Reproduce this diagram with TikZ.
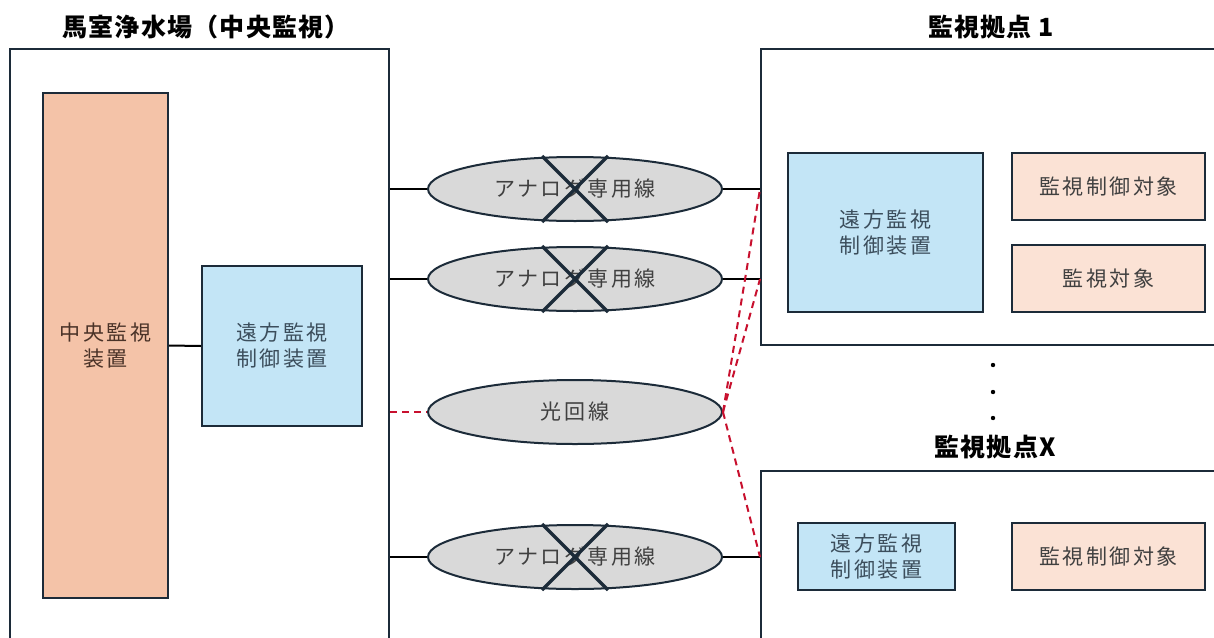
\documentclass[tikz,border=0pt]{standalone}
\usepackage{fontspec}
\setmainfont{Noto Sans CJK JP}
\newfontfamily\jpsp[LetterSpace=12]{Noto Sans CJK JP}
\newfontfamily\jpti[LetterSpace=5]{Noto Sans CJK JP}
\usetikzlibrary{shapes.geometric,calc}
\definecolor{frame}{HTML}{1C2B39}
\definecolor{salmon}{HTML}{F4C3A8}
\definecolor{lblue}{HTML}{C3E5F6}
\definecolor{peach}{HTML}{FBE2D5}
\definecolor{egray}{HTML}{D9D9D9}
\definecolor{txt}{HTML}{404040}
\definecolor{brtxt}{HTML}{4A3328}
\definecolor{bltxt}{HTML}{3C4E5C}
\definecolor{dred}{HTML}{C8102E}
\begin{document}
\begin{tikzpicture}[x=1pt,y=-1pt,
  sitebox/.style={draw=frame,line width=2pt,fill=white,inner sep=0pt,rectangle},
  devbox/.style={draw=frame,line width=2pt,inner sep=0pt,rectangle,align=center,
    font=\jpsp\fontsize{21}{26}\selectfont},
  line/.style={ellipse,draw=frame,line width=2pt,fill=egray,inner sep=0pt,
    minimum width=294pt,minimum height=64pt,text=txt,font=\jpsp\fontsize{21}{26}\selectfont},
  title/.style={font=\jpti\fontsize{25}{29}\selectfont\bfseries,text=black},
  wire/.style={line width=2pt,black},
  fiber/.style={line width=2pt,dred,dash pattern=on 7pt off 5pt},
  cross/.style={line width=3.5pt,frame}
]
\useasboundingbox (0,0) rectangle (1214,637);
\clip (0,0) rectangle (1214,637);
\fill[white] (0,0) rectangle (1214,637);

% sites
\node[sitebox,minimum width=379pt,minimum height=612pt] (s0) at (199.5,355) {};
\node[sitebox,minimum width=469pt,minimum height=296pt] (s1) at (995.5,197) {};
\node[sitebox,minimum width=469pt,minimum height=190pt] (sx) at (995.5,566) {};

% titles
\node[title] (t0) at (206,27) {馬室浄水場（中央監視）};
\node[title] (t1) at (991,27) {監視拠点 1};
\node[title] (tx) at (995,447) {監視拠点X};

% devices, central
\node[devbox,fill=salmon,text=brtxt,minimum width=125pt,minimum height=505pt] (cm) at (105.5,345.5) {中央監視\\装置};
\node[devbox,fill=lblue,text=bltxt,minimum width=160pt,minimum height=160pt] (r0) at (282,346) {遠方監視\\制御装置};
\draw[wire] (cm.east) -- (r0.west);

% devices, site 1
\node[devbox,fill=lblue,text=bltxt,minimum width=195pt,minimum height=159pt] (r1) at (885.5,232.5) {遠方監視\\制御装置};
\node[devbox,fill=peach,text=txt,minimum width=193pt,minimum height=67pt] (o1) at (1108.5,186.5) {監視制御対象};
\node[devbox,fill=peach,text=txt,minimum width=193pt,minimum height=67pt] (o2) at (1108.5,278.5) {監視対象};

% devices, site X
\node[devbox,fill=lblue,text=bltxt,minimum width=157pt,minimum height=67pt] (rx) at (876.5,556.5) {遠方監視\\制御装置};
\node[devbox,fill=peach,text=txt,minimum width=193pt,minimum height=67pt] (ox) at (1108.5,556.5) {監視制御対象};

% dots
\fill (993,365) circle (2.2pt);
\fill (993,392) circle (2.2pt);
\fill (993,418) circle (2.2pt);

% lines
\node[line] (a1) at (575,189) {アナログ専用線};
\node[line] (a2) at (575,279) {アナログ専用線};
\node[line] (a3) at (575,412) {光回線};
\node[line] (a4) at (575,557) {アナログ専用線};

\foreach \n in {a1,a2,a4}{
  \draw[cross] ($(\n.center)+(-33,-33)$) -- ($(\n.center)+(33,33)$);
  \draw[cross] ($(\n.center)+(-33,33)$) -- ($(\n.center)+(33,-33)$);
}

\draw[wire] (s0.east |- a1) -- (a1.west);
\draw[wire] (s0.east |- a2) -- (a2.west);
\draw[wire] (s0.east |- a4) -- (a4.west);
\draw[wire] (a1.east) -- (s1.west |- a1);
\draw[wire] (a2.east) -- (s1.west |- a2);
\draw[wire] (a4.east) -- (sx.west |- a4);

\draw[fiber] (s0.east |- a3) -- (a3.west);
\draw[fiber] (a3.east) -- (s1.west |- a1);
\draw[fiber] (a3.east) -- (s1.west |- a2);
\draw[fiber] (a3.east) -- (sx.west |- a4);
\end{tikzpicture}
\end{document}
